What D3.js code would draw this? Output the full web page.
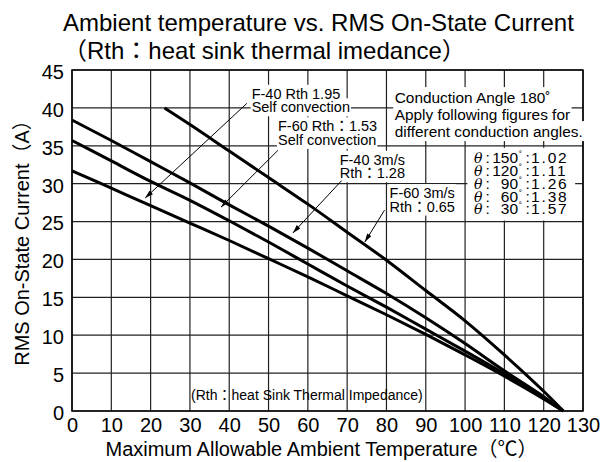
<!DOCTYPE html>
<html>
<head>
<meta charset="utf-8">
<script src="https://cdn.jsdelivr.net/npm/d3@7"></script>
<style>
body { margin: 0; background: #fff; }
svg { display: block; font-family: "Liberation Sans", Arial, "Noto Sans CJK JP", sans-serif; }
</style>
</head>
<body>
<div id="wrapper"></div>
<script>
// axis ticks
const xTicks = d3.range(0, 131, 10);
const yTicks = d3.range(0, 46, 5);

// temperatures (degC)
const temps = [0, 10, 20, 30, 40, 50, 60, 70, 80, 90, 100, 110, 120, 125];
const tempsF60Fan = [23.5, 30, 40, 50, 60, 70, 80, 90, 100, 110, 120, 125];

// RMS on-state current (A)
const currentF40Self = [31.7, 29.4, 27.1, 24.8, 22.5, 20.1, 17.7, 15.2, 12.7, 10.1, 7.4, 4.6, 1.6, 0];
const currentF60Self = [35.7, 33.0, 30.3, 27.8, 25.1, 22.3, 19.4, 16.5, 13.7, 10.8, 7.9, 4.9, 1.7, 0];
const currentF40Fan = [38.4, 35.7, 32.9, 30.1, 27.2, 24.4, 21.5, 18.5, 15.5, 12.3, 8.9, 5.3, 1.9, 0];
const currentF60Fan = [40, 37.8, 34.3, 30.8, 27.3, 23.6, 19.9, 15.9, 11.9, 7.4, 2.6, 0];

// conduction angle factors
const thetaAngles = ["150", "120", "90", "60", "30"];
const thetaFactors = ["1.02", "1.11", "1.26", "1.38", "1.57"];

const series = [
    {temps: temps, values: currentF40Self},
    {temps: temps, values: currentF60Self},
    {temps: temps, values: currentF40Fan},
    {temps: tempsF60Fan, values: currentF60Fan},
];

// labels: text lines, anchor (temp, current) of first baseline, arrow from/to in data units
const notes = [
    {lines: ["F-40 Rth 1.95", "Self convection"], at: [45.7, 41.2], from: [44.5, 40.6], to: [18.6, 28.1]},
    {lines: ["F-60 Rth：1.53", "Self convection"], at: [52.4, 36.9], from: [52.4, 34.4], to: [37.9, 26.9]},
    {lines: ["F-40 3m/s", "Rth：1.28"], at: [68.1, 32.5], from: [68.6, 30.4], to: [56.2, 23.5]},
    {lines: ["F-60 3m/s", "Rth：0.65"], at: [80.8, 28.1], from: [79.5, 26.5], to: [74.5, 22.3]},
];

var dimensions = {
    width: 603,
    height: 462,
    margin: {top: 70, right: 20, bottom: 51, left: 72},
};
dimensions.boundedWidth = dimensions.width - dimensions.margin.left - dimensions.margin.right;
dimensions.boundedHeight = dimensions.height - dimensions.margin.top - dimensions.margin.bottom;

const wrapper = d3.select("#wrapper")
    .append("svg")
    .attr("width", dimensions.width)
    .attr("height", dimensions.height);

const bounds = wrapper.append("g")
    .attr("transform", `translate(${dimensions.margin.left},${dimensions.margin.top})`);

const xScale = d3.scaleLinear().domain([0, 130]).range([0, dimensions.boundedWidth]);
const yScale = d3.scaleLinear().domain([0, 45]).range([dimensions.boundedHeight, 0]);

// grid
const grid = bounds.append("g").attr("stroke", "#222").attr("stroke-width", 1.2);
grid.selectAll(".vline").data(xTicks).join("line")
    .attr("x1", d => xScale(d)).attr("x2", d => xScale(d))
    .attr("y1", 0).attr("y2", dimensions.boundedHeight);
grid.selectAll(".hline").data(yTicks).join("line")
    .attr("x1", 0).attr("x2", dimensions.boundedWidth)
    .attr("y1", d => yScale(d)).attr("y2", d => yScale(d));

bounds.append("rect")
    .attr("width", dimensions.boundedWidth)
    .attr("height", dimensions.boundedHeight)
    .attr("fill", "none")
    .attr("stroke", "#000")
    .attr("stroke-width", 1.5);

// axes (labels only)
const xAxis = bounds.append("g")
    .attr("transform", `translate(0,${dimensions.boundedHeight})`)
    .call(d3.axisBottom(xScale).tickValues(xTicks).tickSize(0).tickPadding(7));
const yAxis = bounds.append("g")
    .attr("transform", "translate(0,2)")
    .call(d3.axisLeft(yScale).tickValues(yTicks).tickSize(0).tickPadding(8));
[xAxis, yAxis].forEach(a => {
    a.select(".domain").remove();
    a.selectAll("text")
        .attr("font-size", "20px")
        .attr("font-family", "Liberation Sans, Arial, sans-serif")
        .attr("fill", "#000");
});

// white box behind a text element (put first in its group so it sits under every line)
function backText(el, pad) {
    const b = el.node().getBBox();
    el.select(function () { return this.parentNode; })
        .insert("rect", ":first-child")
        .attr("x", b.x - pad).attr("y", b.y - pad)
        .attr("width", b.width + 2 * pad).attr("height", b.height + 2 * pad)
        .attr("fill", "#fff");
}

// arrow marker
wrapper.append("defs").append("marker")
    .attr("id", "arrow")
    .attr("viewBox", "0 0 10 6")
    .attr("refX", 10).attr("refY", 3)
    .attr("markerWidth", 9).attr("markerHeight", 5)
    .attr("markerUnits", "userSpaceOnUse")
    .attr("orient", "auto")
    .append("path")
    .attr("d", "M0,0 L10,3 L0,6 Z")
    .attr("fill", "#000");

const noteLayer = bounds.append("g");
notes.forEach(n => {
    const g = noteLayer.append("g");
    n.lines.forEach((line, i) => {
        const t = g.append("text")
            .attr("x", xScale(n.at[0]))
            .attr("y", yScale(n.at[1]) + i * 13.5)
            .attr("font-size", "14.5px")
            .text(line);
        backText(t, 1);
    });
    g.append("line")
        .attr("x1", xScale(n.from[0])).attr("y1", yScale(n.from[1]))
        .attr("x2", xScale(n.to[0])).attr("y2", yScale(n.to[1]))
        .attr("stroke", "#000")
        .attr("stroke-width", 1)
        .attr("marker-end", "url(#arrow)");
});

// conduction angle box
const legendLines = ["Conduction Angle 180˚", "Apply following figures for", "different conduction angles."];
const legend = bounds.append("g");
legendLines.forEach((line, i) => {
    const t = legend.append("text")
        .attr("x", xScale(82.1))
        .attr("y", yScale(40.7) + i * 17)
        .attr("font-size", "15.4px")
        .text(line);
    backText(t, 1.5);
});

// conduction angle factor table: one text block, rows as tspans
const thetaBox = bounds.append("g");
const thetaX = xScale(102.3);
const thetaY = yScale(32.7);
thetaBox.append("rect")
    .attr("x", xScale(100.6)).attr("y", yScale(35) + 2)
    .attr("width", xScale(128) - xScale(100.6))
    .attr("height", yScale(25) - yScale(35) - 3)
    .attr("fill", "#fff");
const thetaText = thetaBox.append("text").attr("font-size", "15.5px");
thetaAngles.forEach((a, i) => {
    const y = thetaY + i * 12.8;
    thetaText.append("tspan").attr("x", thetaX).attr("y", y)
        .attr("font-family", "DejaVu Serif, serif").attr("font-style", "italic").attr("font-size", "14px")
        .text("θ");
    thetaText.append("tspan").attr("x", thetaX + 11.5).attr("y", y).text(":");
    thetaText.append("tspan").attr("x", thetaX + 44).attr("y", y).attr("text-anchor", "end").text(a);
    thetaText.append("tspan").attr("x", thetaX + 45).attr("y", y - 5).attr("font-size", "9px").text("˚");
    thetaText.append("tspan").attr("x", thetaX + 51.5).attr("y", y).text(":");
    thetaText.append("tspan").attr("x", thetaX + 57).attr("y", y).attr("letter-spacing", "1.8px").text(thetaFactors[i]);
});

const bottomNote = bounds.append("text")
    .attr("x", xScale(30.3))
    .attr("y", yScale(1.5))
    .attr("font-size", "14px")
    .text("(Rth：heat Sink Thermal Impedance)");
backText(bottomNote, 1);

// curves
const lineGen = d3.line()
    .x(d => xScale(d[0]))
    .y(d => yScale(d[1]))
    .curve(d3.curveMonotoneX);

bounds.append("g").selectAll("path")
    .data(series)
    .join("path")
    .attr("d", s => lineGen(s.temps.map((t, i) => [t, s.values[i]])))
    .attr("fill", "none")
    .attr("stroke", "#000")
    .attr("stroke-width", 3);

// titles
wrapper.append("text")
    .attr("x", 63).attr("y", 31)
    .attr("font-size", "24px")
    .text("Ambient temperature vs. RMS On-State Current");
wrapper.append("text")
    .attr("x", 63).attr("y", 59)
    .attr("font-size", "24px")
    .text("（Rth：heat sink thermal imedance）");

wrapper.append("text")
    .attr("x", dimensions.margin.left + dimensions.boundedWidth / 2 - 6)
    .attr("y", 456)
    .attr("text-anchor", "middle")
    .attr("font-size", "20px")
    .text("Maximum Allowable Ambient Temperature（℃）");

wrapper.append("text")
    .attr("transform", "rotate(-90)")
    .attr("x", -238)
    .attr("y", 29)
    .attr("text-anchor", "middle")
    .attr("font-size", "20px")
    .text("RMS On-State Current（A）");
</script>
</body>
</html>
